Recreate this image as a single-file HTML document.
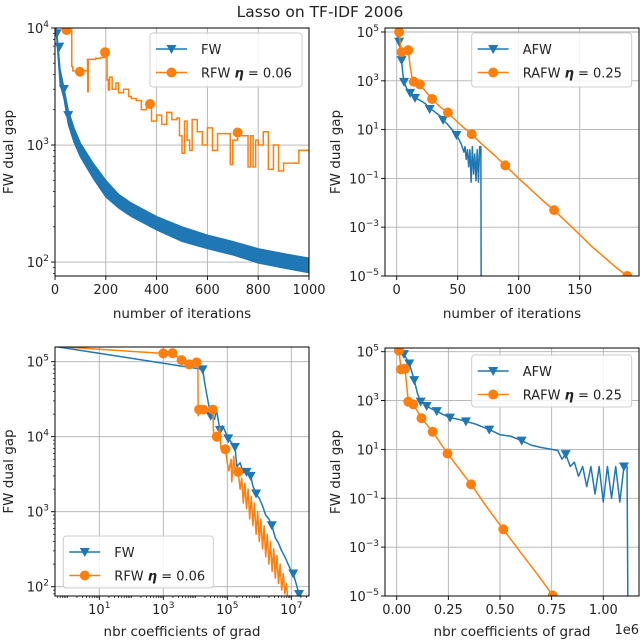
<!DOCTYPE html>
<html><head><meta charset="utf-8"><style>
html,body{margin:0;padding:0;background:#fff;}
svg{display:block;font-family:"DejaVu Sans","Liberation Sans",sans-serif;}
</style></head><body>
<svg id="chart" width="640" height="642" viewBox="0 0 640 642" xmlns="http://www.w3.org/2000/svg">
<text x="320" y="17" text-anchor="middle" font-size="15.5" fill="#222">Lasso on TF-IDF 2006</text>
</svg>
<script>
// ---------- Panel 1 data (FW vs RFW, iterations) ----------
const p1FwIters = [0,5,10,20,35,52,75,100,150,200,250,300,400,500,600,700,800,900,1000];
const p1FwUpper = [12000,10000,8000,4500,3100,2000,1400,1040,700,500,380,320,245,200,170,150,130,118,108];
const p1FwLower = [12000,9000,6500,3300,2500,1500,1050,790,520,360,290,245,188,150,130,115,98,89,81];
const p1FwMarkIters = [7,17,35,52];
const p1FwMarkVals = [9000,6930,3010,1800];
const p1RfwIters = [0,46,50,66,70,98,110,128,129,131,160,180,197,200,205,210,215,225,240,250,270,290,300,320,340,360,374,380,400,420,440,460,480,490,500,510,520,530,540,560,580,600,620,640,660,680,690,700,719,730,750,760,770,780,790,800,820,840,860,880,900,960,1000];
const p1RfwVals = [12000,9600,9600,4700,4300,4230,4300,5400,2850,5400,5500,5600,6200,6200,3600,2950,3800,3000,3400,2800,3000,2600,2500,2400,2000,2300,2240,1600,1800,1500,1900,1650,1700,1200,850,1600,1100,900,1650,1300,1000,1400,900,1250,1250,1250,680,1100,1280,1200,1200,650,1200,650,1100,1000,1300,620,1000,600,700,900,900];
const p1RfwMarkIdx = [1,5,12,26,48];
// ---------- Panel 2 data (AFW vs RAFW, iterations) ----------
const p2AfwIters = [0,1,2,3,4,5,6,7,8,10,11,13,15,18,21,24,27,30,33,36,38,41,44,47,49,51,53,55,56,57,58,59,60,61,62,63,64,65,66,67,68,69,69.3];
const p2AfwVals = [1.2e5,6e4,4e4,2e4,7e3,2e3,900,700,500,350,320,280,200,170,140,110,70,60,45,35,25,18,12,8,6,4,2.5,1.2,2,0.6,1.5,0.3,1.5,0.07,2,0.15,1,0.08,1.5,0.07,2,2,1e-7];
const p2AfwMarkIdx = [2,4,6,10,12,16,20,24];
const p2RafwIters = [0,2,3,4,6,9.5,11,13,14,19,24,29,35,42,50,55,61.5,70,80,89,100,110,120,129,140,150,160,170,180,189];
const p2RafwVals = [1.2e5,1e5,3e4,1.5e4,1.7e4,1.8e4,4e3,1e3,920,720,350,180,90,50,20,12,6.5,2.5,0.9,0.34,0.1,0.035,0.012,5e-3,1.5e-3,5e-4,1.6e-4,6e-5,2.2e-5,1e-5];
const p2RafwMarkIdx = [1,3,5,8,9,11,13,16,19,23,29];
// ---------- Panel 3 data (FW vs RFW, log10 of nbr coefficients) ----------
const p3FwCoefLog10 = [-0.4,4.23,4.3,4.48,4.6,4.66,4.77,4.85,5.03,5.24,5.3,5.4,5.5,5.6,5.73,5.8,5.9,6.0,6.1,6.2,6.3,6.39,6.5,6.6,6.7,6.8,6.9,7.0,7.06,7.15,7.24,7.3];
const p3FwVals = [1.6e5,7.9e4,5e4,1.9e4,1.7e4,2.3e4,1.23e4,1.4e4,9.5e3,7.3e3,4e3,4.5e3,3.3e3,3.4e3,3e3,2.2e3,1.75e3,1.5e3,1.2e3,900,800,660,450,380,300,250,200,160,150,110,80,70];
const p3FwMarkIdx = [1,3,6,8,9,13,14,16,21,28,30];
const p3RfwCoefLog10 = [-0.4,3.0,3.29,3.57,3.81,4.04,4.08,4.09,4.12,4.25,4.4,4.55,4.57,4.67,4.72,4.76,4.8,4.94,5.0,5.05,5.12,5.14,5.2,5.25,5.34,5.4,5.45,5.5,5.55,5.6,5.65,5.7,5.75,5.8,5.85,5.9,5.95,6.0,6.05,6.1,6.15,6.2,6.25,6.3,6.35,6.4,6.45,6.5,6.55,6.6,6.65,6.7,6.75,6.8,6.85,6.9];
const p3RfwVals = [1.6e5,1.29e5,1.3e5,1.05e5,9.2e4,9.8e4,9.8e4,1.9e4,2.3e4,2.3e4,2.2e4,2.3e4,1.1e4,1e4,1.05e4,1.3e4,7e3,6.8e3,4.5e3,3.5e3,5e3,2.5e3,5.5e3,3.3e3,3.4e3,2e3,2.8e3,1.3e3,2.4e3,1.1e3,2e3,800,1600,650,1300,500,1000,400,800,320,650,250,500,200,400,160,320,130,260,110,200,90,150,80,110,60];
const p3RfwMarkIdx = [1,2,3,4,5,8,9,11,13,17,24];
// ---------- Panel 4 data (AFW vs RAFW, coefficients in 1e6) ----------
const p4AfwCoef = [0,0.035,0.061,0.085,0.1,0.116,0.145,0.17,0.194,0.22,0.258,0.3,0.335,0.38,0.42,0.448,0.5,0.55,0.605,0.65,0.7,0.78,0.8,0.818,0.84,0.86,0.88,0.9,0.92,0.94,0.96,0.98,1.0,1.02,1.04,1.06,1.08,1.1,1.115,1.12];
const p4AfwVals = [1.2e5,8e4,3.3e4,6.9e3,2e3,900,600,450,370,280,200,170,140,110,80,65,40,35,23,15,12,9,4,6.4,2,3,0.8,2,0.3,2,0.15,2,0.07,2,0.1,2,0.07,2,2,1e-7];
const p4AfwMarkIdx = [1,2,3,5,6,8,10,12,15,18,23,37];
const p4RafwCoef = [0,0.011,0.021,0.04,0.05,0.056,0.08,0.12,0.174,0.246,0.36,0.45,0.516,0.6,0.68,0.755,0.77];
const p4RafwVals = [1.3e5,1.1e5,1.9e4,2e4,3e3,900,700,190,53,6.8,0.37,0.03,5.4e-3,6e-4,8e-5,1.05e-5,8e-6];
const p4RafwMarkIdx = [1,2,3,5,6,7,8,9,10,12,15];

const BLUE = "#1f77b4", ORANGE = "#ff7f0e";
const NS = "http://www.w3.org/2000/svg";
const svg = document.getElementById("chart");
function mk(tag, attrs, parent){ const e=document.createElementNS(NS,tag); for(const k in attrs) e.setAttribute(k,attrs[k]); (parent||svg).appendChild(e); return e; }
let clipN=0;

function makePanel(cfg){
  const g = mk("g",{});
  
  
  const L=cfg.L,R=cfg.R,T=cfg.T,B=cfg.B;
  const lx = v => cfg.xlog ? Math.log10(v) : v;
  const sx = v => L + (lx(v)-cfg.xmin)/(cfg.xmax-cfg.xmin)*(R-L);
  const sy = v => B - (Math.log10(v)-cfg.ymin)/(cfg.ymax-cfg.ymin)*(B-T);
  cfg.sx=sx; cfg.sy=sy;
  const cid="clip"+(clipN++);
  const cp=mk("clipPath",{id:cid},g); mk("rect",{x:L,y:T,width:R-L,height:B-T},cp);
  cfg.xticks.forEach((t,i)=>{
    const x=sx(t);
    const gl=mk("line",{x1:x,x2:x,y1:T,y2:B,stroke:"#b0b0b0","stroke-width":0.9},g);
    
    
    mk("line",{x1:x,x2:x,y1:B,y2:B+4,stroke:"#000","stroke-width":0.9},g);
    const tx=mk("text",{x:x,y:B+18,"text-anchor":"middle","font-size":13,fill:"#222"},g);
    
    
    if(cfg.xlog){ tx.appendChild(document.createTextNode("10")); const s=mk("tspan",{dy:-6,"font-size":9},tx); s.textContent=String(cfg.xtickLabels[i]); }
    else tx.textContent=cfg.xtickLabels[i];
  });
  if(cfg.xminor){ cfg.xminor.forEach(t=>{ const x=sx(t); if(x>L&&x<R) mk("line",{x1:x,x2:x,y1:B,y2:B+2,stroke:"#000","stroke-width":0.7},g);}); }
  cfg.yticks.forEach((t,i)=>{
    const y=sy(Math.pow(10,t));
    const gl=mk("line",{x1:L,x2:R,y1:y,y2:y,stroke:"#b0b0b0","stroke-width":0.9},g);
    
    
    mk("line",{x1:L-4,x2:L,y1:y,y2:y,stroke:"#000","stroke-width":0.9},g);
    const tx=mk("text",{x:L-6,y:y+5,"text-anchor":"end","font-size":13,fill:"#222"},g);
    
    
    tx.appendChild(document.createTextNode("10"));
    const s=mk("tspan",{dy:-6,"font-size":9},tx); s.textContent=String(t).replace("-","\u2212");
  });
  if(cfg.yminor){
    for(let d=Math.floor(cfg.ymin); d<cfg.ymax; d++){ for(let m=2;m<10;m++){ const lv=d+Math.log10(m); if(lv>cfg.ymin&&lv<cfg.ymax){ const y=sy(Math.pow(10,lv)); mk("line",{x1:L-2,x2:L,y1:y,y2:y,stroke:"#000","stroke-width":0.7},g);} } }
  }
  const plot=mk("g",{"clip-path":"url(#"+cid+")"},g);
  cfg.plot=plot;
  const fr=mk("rect",{x:L,y:T,width:R-L,height:B-T,fill:"none",stroke:"#000","stroke-width":1},g);
  
  
  const xl=mk("text",{x:(L+R)/2,y:cfg.xlabelY,"text-anchor":"middle","font-size":13.5,fill:"#222"},g);
  
  
  xl.textContent=cfg.xlabel;
  const yx=cfg.ylabelX, yy=(T+B)/2;
  const yl=mk("text",{x:yx,y:yy,"text-anchor":"middle","font-size":13.5,fill:"#222",transform:"rotate(-90 "+yx+" "+yy+")"},g);
  
  
  yl.textContent="FW dual gap";
  cfg.g=g;
  return cfg;
}
function line(cfg, xs, ys, color, name){
  const pts=xs.map((x,i)=>cfg.sx(x).toFixed(2)+","+cfg.sy(ys[i]).toFixed(2)).join(" ");
  const p=mk("polyline",{points:pts,fill:"none",stroke:color,"stroke-width":1.5,"stroke-linejoin":"round"},cfg.plot);
  
  
}
function stepLine(cfg, xs, ys, color, name){
  let pts=[];
  xs.forEach((x,i)=>{ if(i>0) pts.push(cfg.sx(x)+","+cfg.sy(ys[i-1])); pts.push(cfg.sx(x)+","+cfg.sy(ys[i])); });
  const p=mk("polyline",{points:pts.join(" "),fill:"none",stroke:color,"stroke-width":1.5},cfg.plot);
  
  
}
function tri(parent,x,y,color){ return mk("path",{d:`M${x-5},${y-4} L${x+5},${y-4} L${x},${y+5} Z`,fill:color},parent); }
function markers(cfg, xs, ys, color, kind, name){
  xs.forEach((x,i)=>{
    const X=cfg.sx(x), Y=cfg.sy(ys[i]);
    const m = kind==="tri" ? tri(cfg.plot,X,Y,color) : mk("circle",{cx:X,cy:Y,r:5,fill:color},cfg.plot);
    
    
  });
}
function pick(arr, idx){ return idx.map(i=>arr[i]); }
function legend(x,y,w,h,labels,names,name){
  const g=mk("g",{});
  
  
  mk("rect",{x:x,y:y,width:w,height:h,rx:3,fill:"#fff","fill-opacity":0.85,stroke:"#ccc","stroke-width":1},g);
  labels.forEach((lab,i)=>{
    const e=mk("g",{},g);
    
    
    const yy=y+16+i*23.5, col=i===0?BLUE:ORANGE;
    mk("line",{x1:x+6,x2:x+37,y1:yy,y2:yy,stroke:col,"stroke-width":1.5},e);
    if(i===0) tri(e,x+21.5,yy,col); else mk("circle",{cx:x+21.5,cy:yy,r:5,fill:col},e);
    const t=mk("text",{x:x+51,y:yy+5,"font-size":13,fill:"#222"},e);
    t.appendChild(document.createTextNode(lab[0]));
    if(lab[1]){ const s=mk("tspan",{"font-weight":"bold","font-style":"italic"},t); s.textContent="\u03B7"; t.appendChild(document.createTextNode(" = "+lab[1])); }
  });
}

// Panel 1
const P1=makePanel({name:"panel-fw-iterations",L:55,R:309,T:28,B:276,xlog:false,xmin:0,xmax:1000,ymin:Math.log10(76),ymax:4,
  xticks:[0,200,400,600,800,1000],xtickLabels:["0","200","400","600","800","1000"],yticks:[2,3,4],yminor:true,xlabel:"number of iterations",xlabelY:318,ylabelX:13});
{
  const up=p1FwIters.map((x,i)=>P1.sx(x)+","+P1.sy(p1FwUpper[i]));
  const lo=p1FwIters.map((x,i)=>P1.sx(x)+","+P1.sy(p1FwLower[i])).reverse();
  const band=mk("polygon",{points:up.concat(lo).join(" "),fill:BLUE,stroke:BLUE,"stroke-width":1.2},P1.plot);
  
  
  markers(P1,p1FwMarkIters,p1FwMarkVals,BLUE,"tri","fw-marker");
  stepLine(P1,p1RfwIters,p1RfwVals,ORANGE,"rfw-series-line");
  markers(P1,pick(p1RfwIters,p1RfwMarkIdx),pick(p1RfwVals,p1RfwMarkIdx),ORANGE,"circ","rfw-marker");
  legend(150,33,152,54,[["FW"],["RFW ","0.06"]],["legend-entry-fw","legend-entry-rfw"],"legend-top-left");
}
// Panel 2
const P2=makePanel({name:"panel-afw-iterations",L:385,R:639,T:28,B:276,xlog:false,xmin:(385-396.7)/1.22,xmax:(639-396.7)/1.22,ymin:-5,ymax:5+4/24.4,
  xticks:[0,50,100,150],xtickLabels:["0","50","100","150"],yticks:[-5,-3,-1,1,3,5],xlabel:"number of iterations",xlabelY:318,ylabelX:340});
line(P2,p2AfwIters,p2AfwVals,BLUE,"afw-series-line");
markers(P2,pick(p2AfwIters,p2AfwMarkIdx),pick(p2AfwVals,p2AfwMarkIdx),BLUE,"tri","afw-marker");
line(P2,p2RafwIters,p2RafwVals,ORANGE,"rafw-series-line");
markers(P2,pick(p2RafwIters,p2RafwMarkIdx),pick(p2RafwVals,p2RafwMarkIdx),ORANGE,"circ","rafw-marker");
legend(471.7,33,160,54,[["AFW"],["RAFW ","0.25"]],["legend-entry-afw","legend-entry-rafw"],"legend-top-right");
// Panel 3
const p3minor=[]; for(let d=-1;d<8;d++) for(let m=1;m<10;m++) p3minor.push(m*Math.pow(10,d));
const P3=makePanel({name:"panel-fw-coefficients",L:55,R:309,T:347,B:596,xlog:true,xmin:1-44.3/32,xmax:7+17.7/32,ymin:2-9.3/75,ymax:5+14.7/75,
  xticks:[10,1e3,1e5,1e7],xtickLabels:[1,3,5,7],xminor:p3minor,yticks:[2,3,4,5],yminor:true,xlabel:"nbr coefficients of grad",xlabelY:636,ylabelX:13});
const pw=a=>a.map(v=>Math.pow(10,v));
line(P3,pw(p3FwCoefLog10),p3FwVals,BLUE,"fw-series-line");
markers(P3,pw(pick(p3FwCoefLog10,p3FwMarkIdx)),pick(p3FwVals,p3FwMarkIdx),BLUE,"tri","fw-marker");
line(P3,pw(p3RfwCoefLog10),p3RfwVals,ORANGE,"rfw-series-line");
markers(P3,pw(pick(p3RfwCoefLog10,p3RfwMarkIdx)),pick(p3RfwVals,p3RfwMarkIdx),ORANGE,"circ","rfw-marker");
legend(63.3,536,150,52,[["FW"],["RFW ","0.06"]],["legend-entry-fw","legend-entry-rfw"],"legend-bottom-left");
// Panel 4
const P4=makePanel({name:"panel-afw-coefficients",L:385,R:639,T:348,B:596,xlog:false,xmin:(385-396.7)/206.6,xmax:(639-396.7)/206.6,ymin:-5,ymax:5+3.7/24.4,
  xticks:[0,0.25,0.5,0.75,1.0],xtickLabels:["0.00","0.25","0.50","0.75","1.00"],yticks:[-5,-3,-1,1,3,5],xlabel:"nbr coefficients of grad",xlabelY:636,ylabelX:340});
line(P4,p4AfwCoef,p4AfwVals,BLUE,"afw-series-line");
markers(P4,pick(p4AfwCoef,p4AfwMarkIdx),pick(p4AfwVals,p4AfwMarkIdx),BLUE,"tri","afw-marker");
line(P4,p4RafwCoef,p4RafwVals,ORANGE,"rafw-series-line");
markers(P4,pick(p4RafwCoef,p4RafwMarkIdx),pick(p4RafwVals,p4RafwMarkIdx),ORANGE,"circ","rafw-marker");
legend(471.7,355,160,52,[["AFW"],["RAFW ","0.25"]],["legend-entry-afw","legend-entry-rafw"],"legend-bottom-right");
const off=mk("text",{x:639,y:634,"text-anchor":"end","font-size":13,fill:"#222"});


off.textContent="1e6";
</script>
</body></html>
